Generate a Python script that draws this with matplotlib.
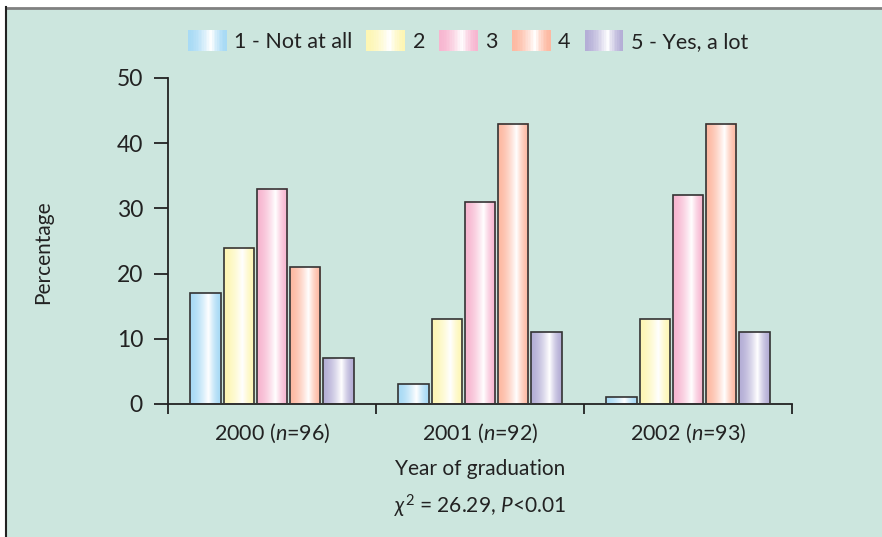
import numpy as np
import matplotlib
matplotlib.use("Agg")
from matplotlib import pyplot as plt
from matplotlib.patches import Rectangle
from matplotlib.lines import Line2D
from matplotlib.legend_handler import HandlerBase
from matplotlib.colors import to_rgb

plt.rcParams['font.family'] = ['Lato', 'DejaVu Sans']
plt.rcParams['mathtext.fontset'] = 'custom'
plt.rcParams['mathtext.rm'] = 'Lato'
plt.rcParams['mathtext.it'] = 'Lato:italic'

years = ["2000", "2001", "2002"]
n_values = [96, 92, 93]
categories = ["1 - Not at all", "2", "3", "4", "5 - Yes, a lot"]
values = {
    "1 - Not at all": [17, 3, 1],
    "2": [24, 13, 13],
    "3": [33, 31, 32],
    "4": [21, 43, 43],
    "5 - Yes, a lot": [7, 11, 11],
}
colors = ["#a8daf5", "#fdf6b4", "#f7b6d0", "#fdb9a2", "#b4aed6"]
y_ticks = [0, 10, 20, 30, 40, 50]

BG = "#cce6de"
EDGE = "#333333"
TXT = "#222222"


def gradient_rgb(color, n=64):
    # edge colour -> white (peak a bit right of centre) -> edge colour
    t = np.linspace(0, 1, n)
    peak = 0.6
    f = np.where(t < peak, t / peak, (1 - t) / (1 - peak))
    f = f ** 1.6
    c = np.array(to_rgb(color))
    rgb = c[None, :] * (1 - f[:, None]) + np.ones(3)[None, :] * f[:, None]
    return rgb[None, :, :]


class GradientHandler(HandlerBase):
    def __init__(self, color):
        super().__init__()
        self.color = color

    def create_artists(self, legend, orig_handle, xdescent, ydescent,
                       width, height, fontsize, trans):
        rgb = gradient_rgb(self.color, 24)[0]
        artists = []
        w = width / len(rgb)
        for i, c in enumerate(rgb):
            r = Rectangle((-xdescent + i * w, -ydescent - 2), w * 1.05, height + 4,
                          facecolor=c, edgecolor='none', transform=trans)
            artists.append(r)
        return artists


fig = plt.figure(figsize=(8.82, 5.37), dpi=100)
fig.patch.set_facecolor("white")
fig.patches.append(Rectangle((6 / 882, 0), 1, 1 - 8 / 537, transform=fig.transFigure,
                             facecolor=BG, edgecolor='none', zorder=-10))
fig.lines.append(Line2D([6 / 882, 1], [1 - 7.5 / 537] * 2, transform=fig.transFigure,
                        color="#808080", lw=2))
fig.lines.append(Line2D([5.5 / 882] * 2, [0, 1 - 7 / 537], transform=fig.transFigure,
                        color=TXT, lw=1.5))

ax = fig.add_axes([168 / 882, 1 - 404 / 537, (792 - 168) / 882, (404 - 78) / 537])
ax.set_facecolor("none")

x = np.arange(len(years))
width = 0.145
step = 0.16
handles = []
for i, cat in enumerate(categories):
    pos = x + (i - 2) * step
    bars = ax.bar(pos, values[cat], width=width, facecolor='none',
                  edgecolor=EDGE, linewidth=1.2, zorder=3)
    for b in bars:
        x0, y0 = b.get_x(), b.get_y()
        ax.imshow(gradient_rgb(colors[i]), extent=(x0, x0 + b.get_width(), y0, y0 + b.get_height()),
                  aspect='auto', interpolation='bilinear', zorder=2)
    handles.append(bars[0])

ax.set_xlim(-0.5, 2.5)
ax.set_ylim(0, 50)
ax.set_yticks(y_ticks)
ax.set_xticks([-0.5, 0.5, 1.5, 2.5])
ax.set_xticklabels([])
ax.set_xticks(x, minor=True)
ax.set_xticklabels([f"{yr} ($\\it{{n}}$={n})" for yr, n in zip(years, n_values)], minor=True)
ax.tick_params(axis='x', which='minor', length=0, pad=13, labelsize=15.5, colors=TXT)
ax.tick_params(axis='x', which='major', direction='out', length=7, width=1.3, color=TXT)
ax.tick_params(axis='y', direction='out', length=10, width=1.3, pad=8, labelsize=16.5,
               color=TXT, labelcolor=TXT)
for s in ["top", "right"]:
    ax.spines[s].set_visible(False)
for s in ["left", "bottom"]:
    ax.spines[s].set_linewidth(1.3)
    ax.spines[s].set_color(TXT)

ax.set_ylabel("Percentage", fontsize=15, color=TXT, labelpad=0)
ax.yaxis.set_label_coords(-0.184, 0.465)
ax.text(0.5, -0.2, "Year of graduation", transform=ax.transAxes, ha='center', va='center',
        fontsize=15, color=TXT)
ax.text(0.5, -0.315, r"$\chi^2$ = 26.29, $\it{P}$<0.01", transform=ax.transAxes,
        ha='center', va='center', fontsize=15, color=TXT)

hmap = {h: GradientHandler(c) for h, c in zip(handles, colors)}
fig.legend(handles, categories, handler_map=hmap, loc='center', ncol=5,
           bbox_to_anchor=(468 / 882, 1 - 42 / 537), frameon=False, fontsize=15.5,
           handlelength=1.8, handleheight=0.7, handletextpad=0.35, columnspacing=0.65,
           labelcolor=TXT)

fig.savefig("out.png", dpi=100, facecolor=fig.get_facecolor())
